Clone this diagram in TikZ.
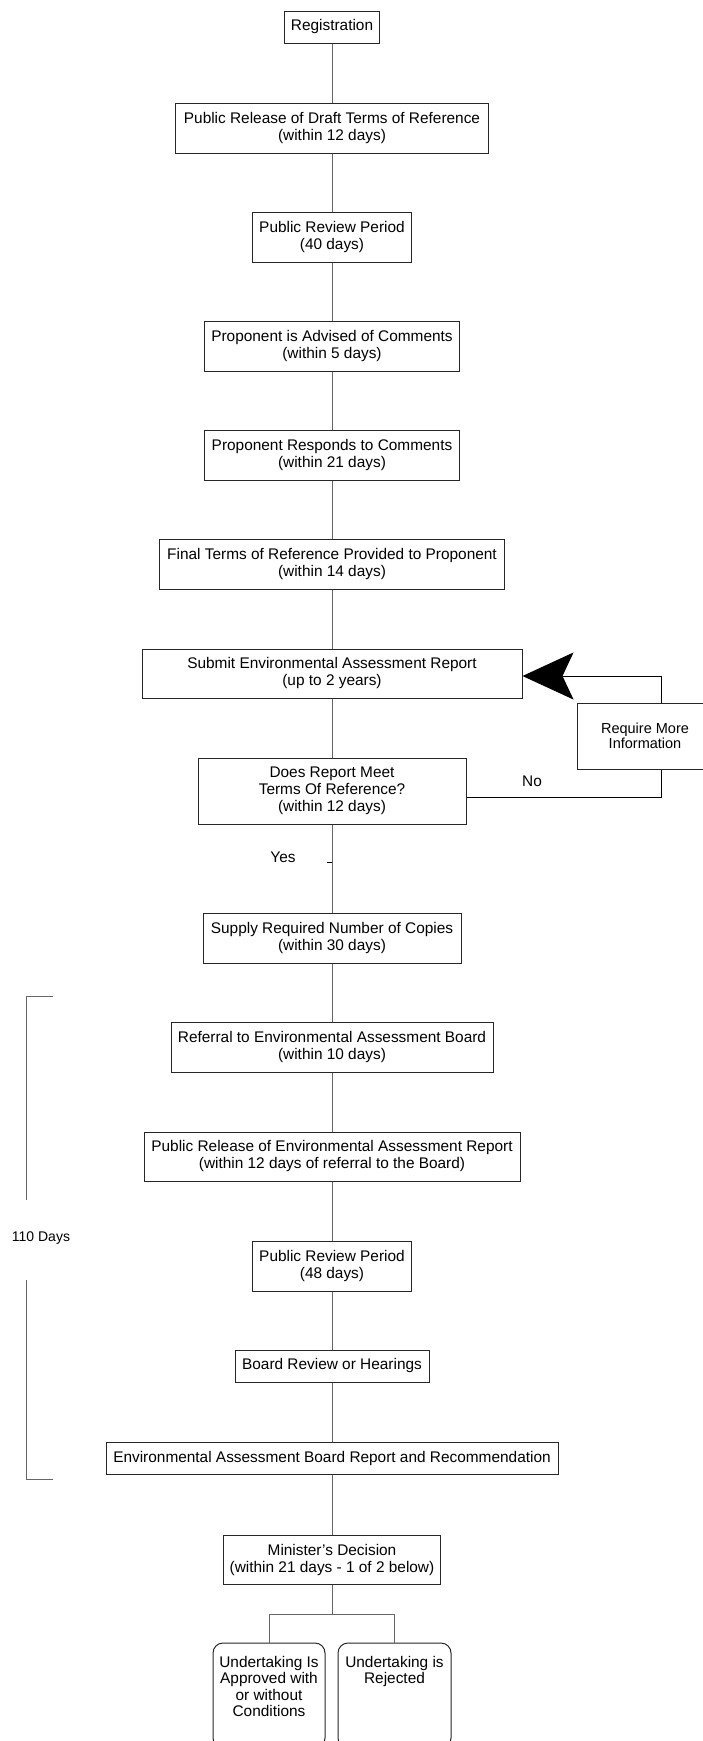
\documentclass[tikz,border=0pt]{standalone}
\usepackage{fontspec}
\setmainfont{Liberation Sans}
\usetikzlibrary{arrows.meta}

\begin{document}
\begin{tikzpicture}[x=1pt, y=-1pt, line width=1pt, draw=black!60]
	\tikzstyle{box}=[draw=black!85, fill=white, minimum height=50, inner sep=0pt, align=center, font=\fontsize{15.4}{17}\selectfont]
	\tikzstyle{rbox}=[box, rounded corners=10, minimum height=105]
	\tikzstyle{annot}=[inner sep=0pt, font=\fontsize{15.4}{17}\selectfont]
	\tikzstyle{link}=[draw=black!60]

	\useasboundingbox (0,0) rectangle (702,1741);

	% Draw the steps
	\node[box, minimum width=95, minimum height=32] (reg) at (332,27) {Registration};
	\node[box, minimum width=313] (draft) at (332,128) {Public Release of Draft Terms of Reference\\(within 12 days)};
	\node[box, minimum width=159] (review1) at (332,237) {Public Review Period\\(40 days)};
	\node[box, minimum width=255] (advised) at (332,346) {Proponent is Advised of Comments\\(within 5 days)};
	\node[box, minimum width=255] (responds) at (332,455.5) {Proponent Responds to Comments\\(within 21 days)};
	\node[box, minimum width=345] (final) at (332,564) {Final Terms of Reference Provided to Proponent\\(within 14 days)};
	\node[box, minimum width=380, minimum height=49] (submit) at (332,673.5) {Submit Environmental Assessment Report\\(up to 2 years)};
	\node[box, minimum width=268, minimum height=66] (does) at (332,791) {Does Report Meet\\ Terms Of Reference?\\(within 12 days)};
	\node[box, minimum width=136, minimum height=66, font=\fontsize{14.5}{14.5}\selectfont] (require) at (645,736) {Require More\\Information};
	\node[box, minimum width=258] (supply) at (332,938) {Supply Required Number of Copies\\(within 30 days)};
	\node[box, minimum width=322] (referral) at (332,1047) {Referral to Environmental Assessment Board\\(within 10 days)};
	\node[box, minimum width=376, minimum height=49] (pubrel) at (332,1156.5) {Public Release of Environmental Assessment Report\\(within 12 days of referral to the Board)};
	\node[box, minimum width=159] (review2) at (332,1266) {Public Review Period\\(48 days)};
	\node[box, minimum width=194, minimum height=32] (board) at (332,1366) {Board Review or Hearings};
	\node[box, minimum width=452, minimum height=32] (ebr) at (332,1458) {Environmental Assessment Board Report and Recommendation};
	\node[box, minimum width=217, minimum height=49] (minister) at (332,1559.5) {Minister's Decision\\(within 21 days - 1 of 2 below)};
	\node[rbox, minimum width=112] (approved) at (269,1695.5) {\parbox[c][99pt][t]{108pt}{\centering\vspace*{10pt}\fontsize{15.4}{16.5}\selectfont Undertaking Is\\Approved with\\or without\\Conditions}};
	\node[rbox, minimum width=113] (rejected) at (394.5,1695.5) {\parbox[c][99pt][t]{108pt}{\centering\vspace*{10pt}\fontsize{15.4}{16.5}\selectfont Undertaking is\\Rejected}};

	% Draw labels
	\node[annot] (yes) at (283,857) {Yes};
	\node[annot] (no) at (532,781) {No};
	\node[annot, font=\fontsize{14}{16}\selectfont] (days) at (41,1238) {110 Days};

	% Draw connectors
	\path[link] (reg) edge (draft);
	\path[link] (draft) edge (review1);
	\path[link] (review1) edge (advised);
	\path[link] (advised) edge (responds);
	\path[link] (responds) edge (final);
	\path[link] (final) edge (submit);
	\path[link] (submit) edge (does);
	\path[link] (does) edge (supply);
	\path[link] (supply) edge (referral);
	\path[link] (referral) edge (pubrel);
	\path[link] (pubrel) edge (review2);
	\path[link] (review2) edge (board);
	\path[link] (board) edge (ebr);
	\path[link] (ebr) edge (minister);

	\coordinate (yestick) at (332,862);
	\draw[draw=black] (yestick) -- ++(-5,0);

	% loop back for more information
	\draw[draw=black] ([yshift=-6pt]does.east) -| ([xshift=16pt]require.south);
	\draw[draw=black, -{Stealth[length=51pt, width=47pt, inset=11pt]}] ([xshift=16pt]require.north) |- ([yshift=-2.5pt]submit.east);

	% split to the two outcomes
	\coordinate (split) at (332,1614);
	\draw[link] (minister) -- (split);
	\draw[link] (split) -| (approved);
	\draw[link] (split) -| (rejected);

	% bracket for the 110 days
	\coordinate (brtop) at (53,996);
	\coordinate (brbot) at (53,1479);
	\draw[link] (brtop) -| (26,1200);
	\draw[link] (26,1280) |- (brbot);
\end{tikzpicture}
\end{document}
